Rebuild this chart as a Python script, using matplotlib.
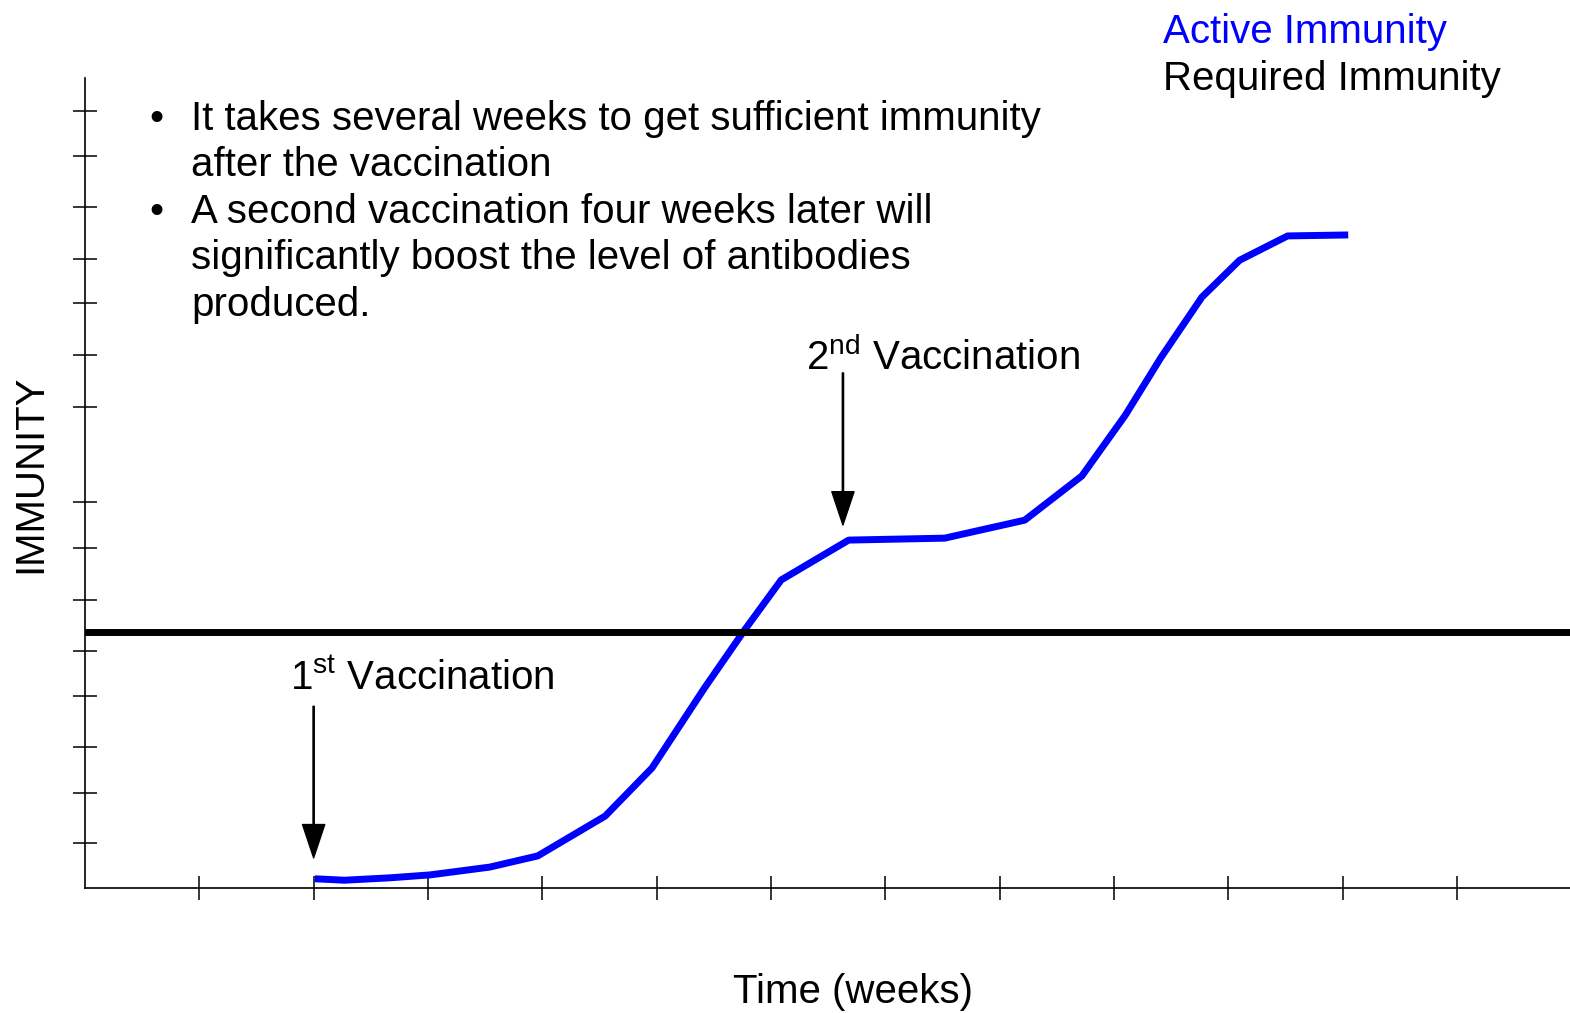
import matplotlib.pyplot as plt

plt.rcParams['font.family'] = ['Liberation Sans', 'DejaVu Sans']
plt.rcParams['mathtext.fontset'] = 'custom'
plt.rcParams['mathtext.rm'] = 'Liberation Sans'

# time in weeks, immunity in arbitrary units
weeks = [2.01, 2.27, 2.67, 3.02, 3.54, 3.96, 4.55, 4.96, 5.42, 5.77, 6.09,
         6.68, 7.52, 8.22, 8.72, 9.10, 9.41, 9.77, 10.10, 10.52, 11.05]
active = [0.19, 0.16, 0.21, 0.27, 0.43, 0.66, 1.48, 2.47, 4.12, 5.31, 6.34,
          7.16, 7.20, 7.57, 8.48, 9.73, 10.91, 12.16, 12.92, 13.42, 13.44]
required = 5.27
x_ticks = [1, 2, 3, 4, 5, 6, 7, 8, 9, 10, 11, 12]
y_ticks = [0.93, 1.95, 2.9, 3.95, 4.88, 5.93, 7.0, 7.94, 9.9, 10.97, 12.04,
           12.94, 14.01, 15.06, 16.0]
vacc_weeks = [2.0, 6.63]
vacc_labels = ['1$^{\\mathrm{st}}$ Vaccination', '2$^{\\mathrm{nd}}$ Vaccination']
bullets = [
    ['It takes several weeks to get sufficient immunity',
     'after the vaccination'],
    ['A second vaccination four weeks later will',
     'significantly boost the level of antibodies',
     'produced.'],
]

W, H = 1570, 1013
fig = plt.figure(figsize=(W / 100, H / 100), dpi=100)
ax = fig.add_axes([85 / W, (H - 888) / H, (W - 85) / W, (888 - 78) / H])

ax.plot(weeks, active, color='#0000ff', lw=5, solid_capstyle='butt')
ax.axhline(required, color='black', lw=5)

ax.set_xlim(0, 12.99)
ax.set_ylim(0, 16.67)
ax.set_xticks(x_ticks)
ax.set_yticks(y_ticks)
ax.set_xticklabels([])
ax.set_yticklabels([])
ax.tick_params(direction='inout', length=17, width=1.1, color='black')
ax.spines['top'].set_visible(False)
ax.spines['right'].set_visible(False)
for s in ['left', 'bottom']:
    ax.spines[s].set_linewidth(1.2)

# vaccination arrows
arrow_tops = [3.74, 10.6]
arrow_ends = [0.62, 7.47]
label_pos = [(1.79, 4.07), (6.31, 10.66)]
for xv, y0, y1, lab, (lx, ly) in zip(vacc_weeks, arrow_tops, arrow_ends,
                                      vacc_labels, label_pos):
    ax.annotate('', xy=(xv, y1), xytext=(xv, y0),
                arrowprops=dict(facecolor='black', edgecolor='black',
                                width=0.9, headwidth=16, headlength=24,
                                shrink=0))
    ax.text(lx, ly, lab, fontsize=29, va='baseline', ha='left')

# bullet notes
y = 15.6
for group in bullets:
    ax.text(0.56, y, '•', fontsize=29, va='baseline', ha='left')
    for line in group:
        ax.text(0.93, y, line, fontsize=29, va='baseline', ha='left')
        y -= 0.955

fig.text(30 / W, (H - 474) / H, 'IMMUNITY', fontsize=29, rotation=90,
         ha='center', va='center')
fig.text(853 / W, (H - 1003) / H, 'Time (weeks)', fontsize=29,
         ha='center', va='baseline')

fig.text(1163 / W, (H - 43) / H, 'Active Immunity', color='#0000ff',
         fontsize=29, va='baseline')
fig.text(1163 / W, (H - 90) / H, 'Required Immunity', color='black',
         fontsize=29, va='baseline')

plt.savefig('out.png', dpi=100)
plt.close()
